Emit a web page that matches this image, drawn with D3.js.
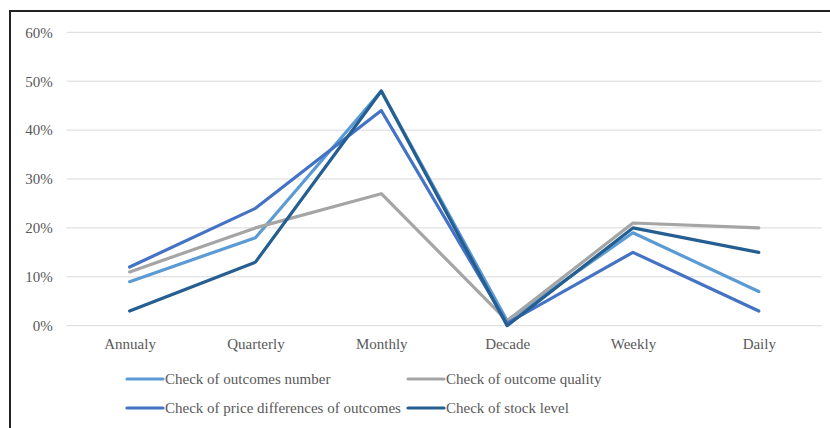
<!DOCTYPE html>
<html>
<head>
<meta charset="utf-8">
<script src="https://cdn.jsdelivr.net/npm/d3@7"></script>
<style>
html,body{margin:0;padding:0;background:#fff;}
svg{display:block;}
svg text{font-family:"Liberation Serif","Times New Roman","DejaVu Serif",serif !important;}
</style>
</head>
<body>
<svg id="chart" width="830" height="428"></svg>
<script>
const categories = ["Annualy","Quarterly","Monthly","Decade","Weekly","Daily"];
const yTicks = [0,10,20,30,40,50,60];
const seriesNames = ["Check of outcomes number","Check of outcome quality","Check of price differences of outcomes","Check of stock level"];
const seriesColors = ["#5B9BD5","#A5A5A5","#4472C4","#255E91"];
const outcomesNumber = [9,18,48,1,19,7];
const outcomeQuality = [11,20,27,1,21,20];
const priceDifferences = [12,24,44,0.5,15,3];
const stockLevel = [3,13,48,0,20,15];
const seriesValues = [outcomesNumber,outcomeQuality,priceDifferences,stockLevel];

const svg = d3.select("#chart");
const plotLeft = 66.7, plotRight = 821.7, plotTop = 32.3, plotBottom = 325.7;

// frame (top & left visible)
svg.append("line").attr("x1",9).attr("x2",830).attr("y1",11).attr("y2",11).attr("stroke","#222").attr("stroke-width",2);
svg.append("line").attr("x1",10).attr("x2",10).attr("y1",10).attr("y2",428).attr("stroke","#222").attr("stroke-width",2);

const x = d3.scalePoint().domain(categories).range([plotLeft,plotRight]).padding(0.5);
const y = d3.scaleLinear().domain([0,60]).range([plotBottom,plotTop]);

// gridlines
svg.append("g").selectAll("line").data(yTicks).join("line")
  .attr("x1",plotLeft).attr("x2",plotRight)
  .attr("y1",d=>y(d)).attr("y2",d=>y(d))
  .attr("stroke","#d9d9d9").attr("stroke-width",1);

// y axis labels
const yAxis = svg.append("g").attr("transform",`translate(${plotLeft-14},0)`)
  .call(d3.axisLeft(y).tickValues(yTicks).tickFormat(d=>d+"%").tickSize(0).tickPadding(0));
yAxis.select(".domain").remove();
yAxis.attr("font-family",null).attr("font-size",null);
yAxis.selectAll("text").attr("fill","#595959").style("font-size","15px");

// x axis labels
const xAxis = svg.append("g").attr("transform",`translate(0,${plotBottom+13})`)
  .call(d3.axisBottom(x).tickSize(0).tickPadding(0));
xAxis.select(".domain").remove();
xAxis.attr("font-family",null).attr("font-size",null);
xAxis.selectAll("text").attr("fill","#595959").style("font-size","15px");

// lines
const line = d3.line().x((d,i)=>x(categories[i])).y(d=>y(d));
svg.append("g").selectAll("path").data(seriesValues).join("path")
  .attr("d",line).attr("fill","none")
  .attr("stroke",(d,i)=>seriesColors[i]).attr("stroke-width",3.2)
  .attr("stroke-linejoin","round").attr("stroke-linecap","round");

// legend
const legendPos = [[127,379],[408,379],[127,408],[408,408]];
const lg = svg.append("g").selectAll("g").data(seriesNames).join("g")
  .attr("transform",(d,i)=>`translate(${legendPos[i][0]},${legendPos[i][1]})`);
lg.append("line").attr("x1",0).attr("x2",36).attr("y1",0).attr("y2",0)
  .attr("stroke",(d,i)=>seriesColors[i]).attr("stroke-width",3.2).attr("stroke-linecap","round");
lg.append("text").attr("x",38).attr("y",0).attr("dy","0.35em")
  .attr("fill","#595959").style("font-size","15px").text(d=>d);
</script>
</body>
</html>
